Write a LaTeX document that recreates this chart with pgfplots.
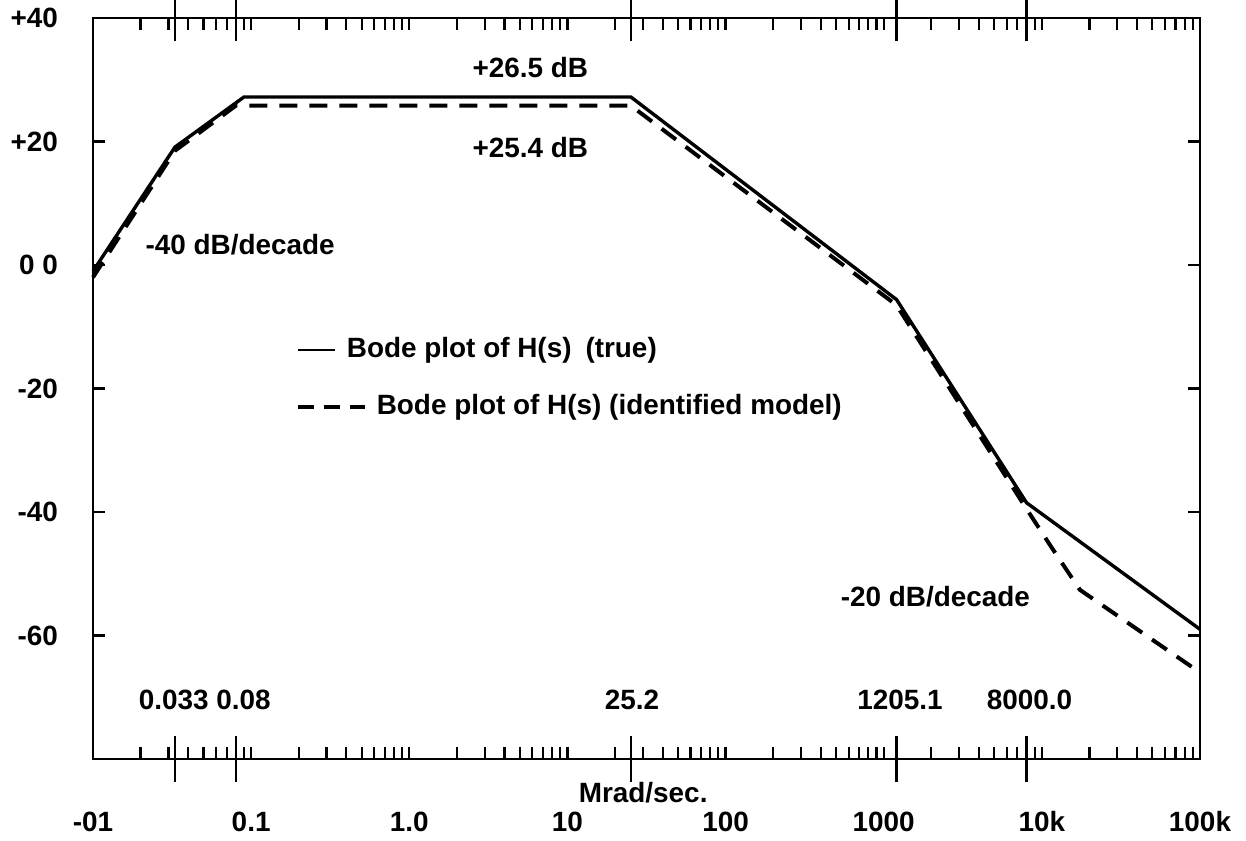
\documentclass[border=0pt]{standalone}
\usepackage{fontspec}
\setmainfont{Liberation Sans}
\usepackage{pgfplots}
\pgfplotsset{compat=1.18}

\begin{document}
\begin{tikzpicture}[font=\bfseries\fontsize{14}{16}\selectfont]
\begin{semilogxaxis}[
  scale only axis,
  width=553.5bp, height=370.5bp,
  xmin=0.01, xmax=100000,
  ymin=-80, ymax=40,
  axis line style={line width=1.4pt},
  every tick/.style={black, line width=1.1pt},
  tick align=inside,
  major tick length=6bp,
  minor tick length=6bp,
  xtick={0.01,0.1,1,10,100,1000,10000,100000},
  xticklabels={-01,0.1,1.0,10,100,1000,10k,100k},
  minor xtick={0.02,0.03,0.04,0.05,0.06,0.07,0.08,0.09,
    0.2,0.3,0.4,0.5,0.6,0.7,0.8,0.9,
    2,3,4,5,6,7,8,9,
    20,30,40,50,60,70,80,90,
    200,300,400,500,600,700,800,900,
    2000,3000,4000,5000,6000,7000,8000,9000,
    20000,30000,40000,50000,60000,70000,80000,90000},
  ytick={-60,-40,-20,0,20,40},
  yticklabels={-60,-40,-20,0 0,+20,+40},
  extra x ticks={0.033,0.08,25.2,1205.1,8000},
  extra x tick labels={},
  extra x tick style={major tick length=23bp, tick align=center},
  tick label style={font=\bfseries\fontsize{14}{16}\selectfont},
  xticklabel style={anchor=base, yshift=-36bp},
  yticklabel style={xshift=-14bp},
  clip=false,
]
% true transfer function
\addplot[black, line width=1.7pt] coordinates {
  (0.01,-1) (0.033,19.1) (0.09,27.2) (25.2,27.2)
  (1205.1,-5.6) (8000,-38.5) (100000,-59)
};
% identified model
\addplot[black, line width=2pt, dash pattern=on 9bp off 6bp] coordinates {
  (0.01,-2) (0.033,18.5) (0.08,25.8) (25.2,25.8)
  (1205.1,-6.5) (8000,-39.5) (11700,-46) (17400,-52.6) (100000,-66)
};

\node at (rel axis cs:0.395,0.933) {+26.5 dB};
\node at (rel axis cs:0.395,0.825) {+25.4 dB};
\node at (rel axis cs:0.133,0.694) {-40 dB/decade};
\node at (rel axis cs:0.761,0.219) {-20 dB/decade};
\node at (rel axis cs:0.101,0.080) {0.033 0.08};
\node at (rel axis cs:0.487,0.080) {25.2};
\node at (rel axis cs:0.729,0.080) {1205.1};
\node at (rel axis cs:0.846,0.080) {8000.0};
\node at (rel axis cs:0.497,-0.045) {Mrad/sec.};

% legend
\draw[line width=1.2pt] (rel axis cs:0.185,0.552) -- (rel axis cs:0.219,0.552);
\node[anchor=west] at (rel axis cs:0.223,0.552) {Bode plot of H(s)\enspace(true)};
\draw[line width=1.6pt, dash pattern=on 8bp off 5bp] (rel axis cs:0.185,0.475) -- (rel axis cs:0.246,0.475);
\node[anchor=west] at (rel axis cs:0.250,0.475) {Bode plot of H(s) (identified model)};

\coordinate (ll) at (rel axis cs:0,0);
\coordinate (ur) at (rel axis cs:1,1);
\end{semilogxaxis}
\pgfresetboundingbox
\path[use as bounding box] ([shift={(-46.5bp,-41bp)}]ll) rectangle ([shift={(23bp,9bp)}]ur);
\end{tikzpicture}
\end{document}
